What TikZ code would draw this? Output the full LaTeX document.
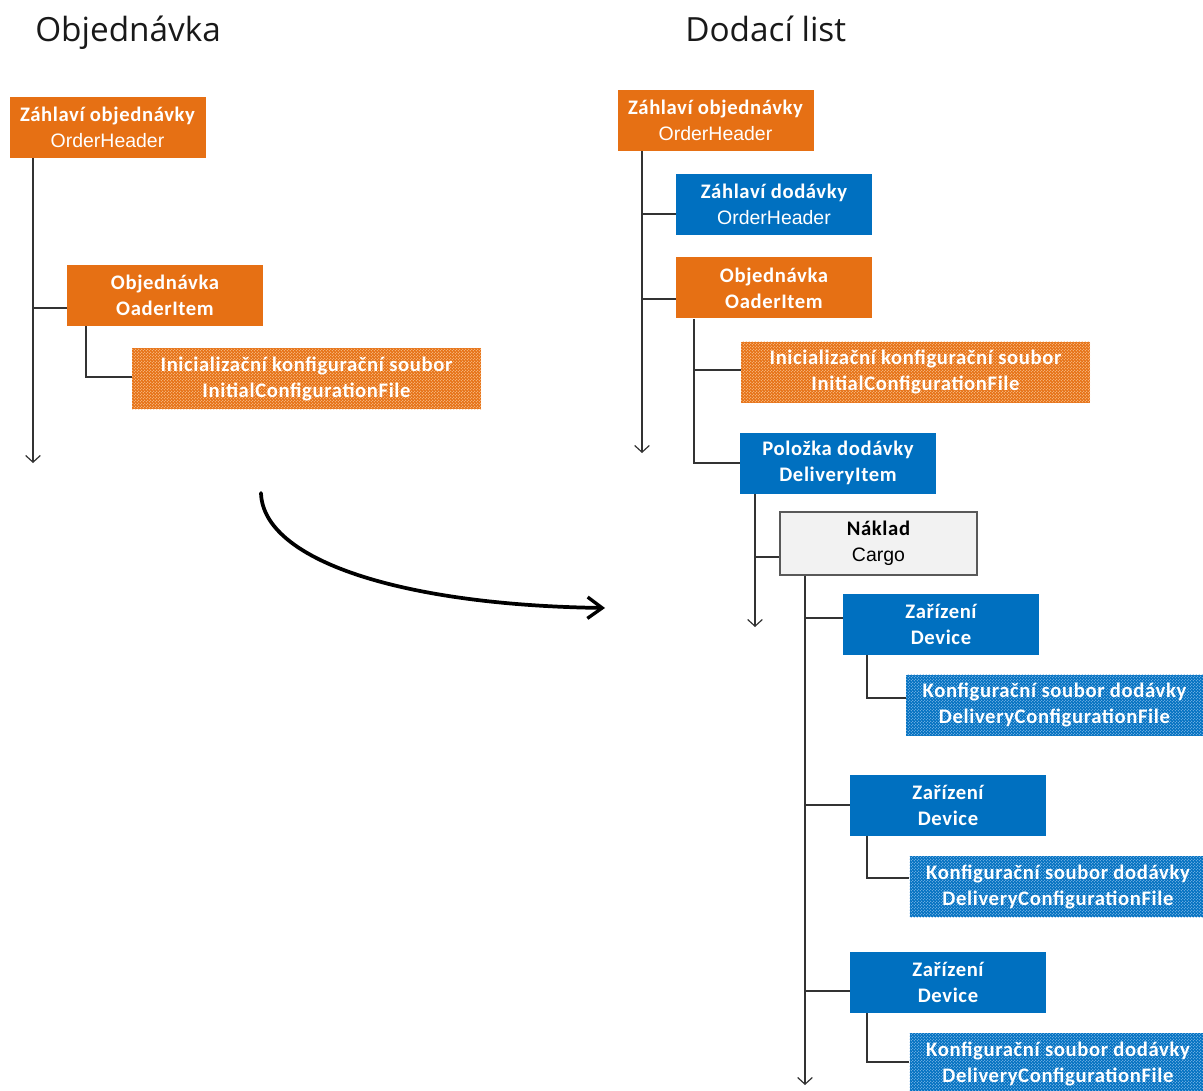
\documentclass[tikz,border=0pt]{standalone}
\usepackage{fontspec}
\setmainfont{Carlito}
\newfontfamily\cbf{Carlito}[LetterSpace=3]
\newfontfamily\arf{Liberation Sans}
\newfontfamily\ttlf{Open Sans}
\usetikzlibrary{arrows.meta,patterns}
\definecolor{org}{RGB}{230,112,20}
\definecolor{blu}{RGB}{0,112,192}
\definecolor{dotorg}{RGB}{250,200,150}
\definecolor{dotblu}{RGB}{140,190,235}
\pgfdeclarepatternformonly{finedots}{\pgfqpoint{-0.1pt}{-0.1pt}}{\pgfqpoint{2.35pt}{2.35pt}}{\pgfqpoint{2.25pt}{2.25pt}}{%
  \pgfpathcircle{\pgfqpoint{0.56pt}{0.56pt}}{0.42pt}%
  \pgfpathcircle{\pgfqpoint{1.69pt}{1.69pt}}{0.42pt}%
  \pgfusepath{fill}}
\tikzset{
  box/.style={minimum width=147pt, minimum height=45.75pt, inner sep=0pt, text=white,
    align=center, font=\fontsize{15.5}{19.5}\selectfont},
  orgbox/.style={box, fill=org},
  blubox/.style={box, fill=blu},
  hatchorg/.style={box, minimum width=261.75pt, fill=org,
    postaction={pattern=finedots, pattern color=dotorg}},
  hatchblu/.style={box, minimum width=222.75pt, fill=blu,
    postaction={pattern=finedots, pattern color=dotblu}},
  graybox/.style={box, minimum width=147.75pt, minimum height=47.25pt, fill=black!5,
    draw=black!65, line width=1.1pt, text=black},
  conn/.style={draw=black!80, line width=0.9pt},
  trunk/.style={conn, -{Straight Barb[length=5pt,width=11pt,line width=0.9pt]}},
  ttl/.style={font=\ttlf\fontsize{25}{30}\selectfont, text=black!90, inner sep=0pt},
}
\newcommand\bl[1]{{\cbf\bfseries #1}}
\newcommand\rl[1]{{\arf\fontsize{14.6}{19.5}\selectfont #1}}
\begin{document}
\begin{tikzpicture}[x=0.75pt, y=-0.75pt]
\useasboundingbox (0,0) rectangle (1203,1091);
% titles
\node[ttl, anchor=base west] (tl) at (35,42) {Objednávka};
\node[ttl, anchor=base west] (tr) at (685,42) {Dodací list};
% ---------- left tree ----------
\node[orgbox] (lh) at (107.5,127.5) {\bl{Záhlaví objednávky}\\\rl{OrderHeader}};
\node[orgbox] (lo) at (165,295.5) {\bl{Objednávka}\\\bl{OaderItem}};
\node[hatchorg] (lf) at (306.5,378.5) {\bl{Inicializační konfigurační soubor}\\\bl{InitialConfigurationFile}};
\coordinate (la) at (33,463);
\draw[trunk] (lh.south -| la) -- (la);
\coordinate (lj1) at (33,308);
\draw[conn] (lj1) -- (lj1 -| lo.west);
\coordinate (le1) at (86,377);
\draw[conn] (lo.south -| le1) -- (le1) -- (le1 -| lf.west);
% ---------- right tree ----------
\node[orgbox] (rh) at (715.5,120.5) {\bl{Záhlaví objednávky}\\\rl{OrderHeader}};
\node[blubox] (rd) at (774,204.5) {\bl{Záhlaví dodávky}\\\rl{OrderHeader}};
\node[orgbox] (ro) at (774,288) {\bl{Objednávka}\\\bl{OaderItem}};
\node[hatchorg] (rf) at (915.5,372) {\bl{Inicializační konfigurační soubor}\\\bl{InitialConfigurationFile}};
\node[blubox] (rdi) at (838,463) {\bl{Položka dodávky}\\\bl{DeliveryItem}};
\node[graybox] (rc) at (878.5,543.5) {\bl{Náklad}\\\rl{Cargo}};
\node[blubox] (dv1) at (941,624) {\bl{Zařízení}\\\bl{Device}};
\node[hatchblu] (df1) at (1054.5,705) {\bl{Konfigurační soubor dodávky}\\\bl{DeliveryConfigurationFile}};
\node[blubox] (dv2) at (948,805) {\bl{Zařízení}\\\bl{Device}};
\node[hatchblu] (df2) at (1058,886.5) {\bl{Konfigurační soubor dodávky}\\\bl{DeliveryConfigurationFile}};
\node[blubox] (dv3) at (948,982.5) {\bl{Zařízení}\\\bl{Device}};
\node[hatchblu] (df3) at (1058,1063.5) {\bl{Konfigurační soubor dodávky}\\\bl{DeliveryConfigurationFile}};
% trunk of order header
\coordinate (ra) at (642,453);
\draw[trunk] (rh.south -| ra) -- (ra);
\coordinate (rj1) at (642,214);
\draw[conn] (rj1) -- (rj1 -| rd.west);
\coordinate (rj2) at (642,299);
\draw[conn] (rj2) -- (rj2 -| ro.west);
% order item branch
\coordinate (re1) at (694,463);
\draw[conn] (ro.south -| re1) -- (re1) -- (re1 -| rdi.west);
\coordinate (rj3) at (694,370);
\draw[conn] (rj3) -- (rj3 -| rf.west);
% delivery item trunk
\coordinate (da) at (755,627);
\draw[trunk] (rdi.south -| da) -- (da);
\coordinate (dj1) at (755,557);
\draw[conn] (dj1) -- (dj1 -| rc.west);
% cargo trunk
\coordinate (ca) at (805,1085);
\draw[trunk] (rc.south -| ca) -- (ca);
\coordinate (cj1) at (805,618);
\draw[conn] (cj1) -- (cj1 -| dv1.west);
\coordinate (cj2) at (805,805);
\draw[conn] (cj2) -- (cj2 -| dv2.west);
\coordinate (cj3) at (805,991);
\draw[conn] (cj3) -- (cj3 -| dv3.west);
% device elbows
\coordinate (de1) at (867,698);
\draw[conn] (dv1.south -| de1) -- (de1) -- (de1 -| df1.west);
\coordinate (de2) at (867,878);
\draw[conn] (dv2.south -| de2) -- (de2) -- (de2 -| df2.west);
\coordinate (de3) at (867,1062);
\draw[conn] (dv3.south -| de3) -- (de3) -- (de3 -| df3.west);
% big curved arrow
\coordinate (cs) at (261,493);
\coordinate (ce) at (605,608);
\draw[line width=2.8pt, line cap=round, -{Straight Barb[length=11pt,width=16pt,line width=2.5pt]}]
  (cs) .. controls (263,560) and (400,605) .. (ce);
\end{tikzpicture}
\end{document}
